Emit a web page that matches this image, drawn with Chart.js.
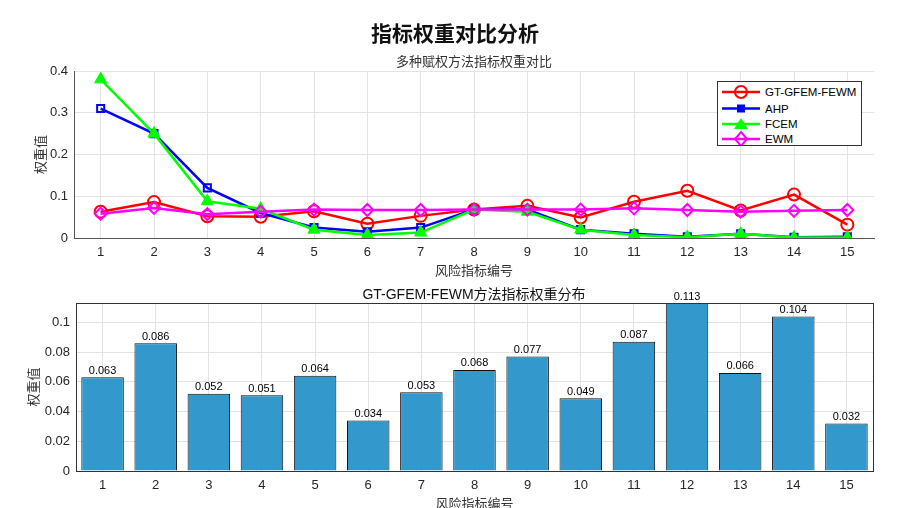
<!DOCTYPE html>
<html>
<head>
<meta charset="utf-8">
<script src="https://cdn.jsdelivr.net/npm/chart.js@4.4.0/dist/chart.umd.min.js"></script>
<style>
body { margin:0; width:906px; height:508px; overflow:hidden; background:#fff; position:relative;
       font-family:"Liberation Sans","Noto Sans CJK SC",sans-serif; }
canvas { position:absolute; left:0; }
#c1 { top:0; }
#c2 { top:280px; }
.ttl { position:absolute; white-space:nowrap; transform:translate(-50%,-50%); color:#111; }
#mainTitle { left:455px; top:32px; font-size:21px; font-weight:bold; font-family:"Noto Sans CJK SC",sans-serif; }
#subTitle { left:474px; top:60px; font-size:13px; color:#333; font-family:"Noto Sans CJK SC",sans-serif; }
#barTitle { left:474px; top:293px; font-size:14px; color:#111; }
#legend { position:absolute; left:717px; top:81px; width:145px; height:65px; box-sizing:border-box;
          border:1px solid #333; background:#fff; font-size:11.5px; color:#000; }
</style>
</head>
<body>
<canvas id="c1" width="906" height="280"></canvas>
<canvas id="c2" width="906" height="240"></canvas>
<div class="ttl" id="mainTitle">指标权重对比分析</div>
<div class="ttl" id="subTitle">多种赋权方法指标权重对比</div>
<div class="ttl" id="barTitle">GT-GFEM-FEWM方法指标权重分布</div>
<div id="legend"></div>
<script>
// data
var indexLabels = ['1','2','3','4','5','6','7','8','9','10','11','12','13','14','15'];
var gtWeights   = [0.063,0.086,0.052,0.051,0.064,0.034,0.053,0.068,0.077,0.049,0.087,0.113,0.066,0.104,0.032];
var ahpWeights  = [0.310,0.250,0.120,0.060,0.025,0.015,0.025,0.068,0.068,0.020,0.010,0.003,0.010,0.002,0.003];
var fcemWeights = [0.380,0.250,0.088,0.070,0.020,0.007,0.013,0.068,0.063,0.020,0.007,0.002,0.010,0.001,0.001];
var ewmWeights  = [0.058,0.072,0.057,0.063,0.068,0.067,0.067,0.068,0.068,0.068,0.071,0.067,0.063,0.065,0.067];

var seriesNames = ['GT-GFEM-FEWM','AHP','FCEM','EWM'];
var seriesColors = ['#ff0000','#0000ff','#00ff00','#ff00ff'];

var tickFont = { family: '"Liberation Sans", Arial, sans-serif', size: 13 };
var titleFont = { family: '"Noto Sans CJK SC", sans-serif', size: 13 };
var gridColor = '#e3e3e3';
var axisColor = '#555';

// LINE CHART

var ctx1 = document.getElementById('c1').getContext('2d');
var chart1 = new Chart(ctx1, {
    type: 'line',
    data: {
        labels: indexLabels,
        datasets: [{
            label: seriesNames[0], data: gtWeights, borderColor: seriesColors[0], borderWidth: 2.5,
            pointStyle: 'circle', pointRadius: 6, pointBorderWidth: 2, pointBackgroundColor: 'rgba(0,0,0,0)',
            pointBorderColor: seriesColors[0], order: 4
        }, {
            label: seriesNames[1], data: ahpWeights, borderColor: seriesColors[1], borderWidth: 2.5,
            pointStyle: 'rect', pointRadius: 5, pointBorderWidth: 2, pointBackgroundColor: 'rgba(0,0,0,0)',
            pointBorderColor: seriesColors[1], order: 3
        }, {
            label: seriesNames[2], data: fcemWeights, borderColor: seriesColors[2], borderWidth: 2.5,
            pointStyle: 'triangle', pointRadius: 7, pointBorderWidth: 1, pointBackgroundColor: seriesColors[2],
            pointBorderColor: seriesColors[2], order: 2
        }, {
            label: seriesNames[3], data: ewmWeights, borderColor: seriesColors[3], borderWidth: 2.5,
            pointStyle: 'rectRot', pointRadius: 6, pointBorderWidth: 2, pointBackgroundColor: 'rgba(0,0,0,0)',
            pointBorderColor: seriesColors[3], order: 1
        }]
    },
    options: {
        responsive: false,
        animation: false,
        layout: { padding: { top: 71, right: 32, left: 0, bottom: 0 } },
        plugins: { legend: { display: false }, tooltip: { enabled: false } },
        scales: {
            x: {
                offset: true,
                grid: { color: gridColor, drawTicks: false, offset: false },
                border: { color: axisColor },
                ticks: { font: tickFont, color: '#262626', padding: 7 },
                title: { display: true, text: '风险指标编号', font: titleFont, color: '#333', padding: { top: 0, bottom: 2 } },
                afterFit: function(s) { s.height = 42; }
            },
            y: {
                min: 0, max: 0.4,
                grid: { color: gridColor, drawTicks: false },
                border: { color: axisColor },
                ticks: { stepSize: 0.1, font: tickFont, color: '#262626', padding: 6,
                         callback: function(v) { return v === 0 ? '0' : v.toFixed(1); } },
                title: { display: true, text: '权重值', font: titleFont, color: '#333', padding: { top: 32, bottom: 0 } },
                afterFit: function(s) { s.width = 74; }
            }
        }
    }
});

// BAR CHART

var barLabels = {
    id: 'barLabels',
    afterDatasetsDraw: function(chart) {
        var c = chart.ctx;
        var meta = chart.getDatasetMeta(0);
        c.save();
        c.font = '11px "Liberation Sans", Arial, sans-serif';
        c.fillStyle = '#000';
        c.textAlign = 'center';
        c.textBaseline = 'bottom';
        meta.data.forEach(function(bar, i) {
            c.fillText(gtWeights[i].toFixed(3), bar.x, bar.y - 1);
        });
        c.restore();
    }
};

var boxLines = {
    id: 'boxLines',
    afterDraw: function(chart) {
        var a = chart.chartArea;
        var c = chart.ctx;
        c.save();
        c.strokeStyle = '#333';
        c.lineWidth = 1;
        c.strokeRect(a.left + 0.5, a.top + 0.5, a.right - a.left, a.bottom - a.top);
        c.restore();
    }
};

var ctx2 = document.getElementById('c2').getContext('2d');
var chart2 = new Chart(ctx2, {
    type: 'bar',
    data: {
        labels: indexLabels,
        datasets: [{
            label: seriesNames[0],
            data: gtWeights,
            backgroundColor: '#3399cc',
            borderColor: '#111',
            borderWidth: 1,
            barPercentage: 0.8,
            categoryPercentage: 1
        }]
    },
    options: {
        responsive: false,
        animation: false,
        layout: { padding: { top: 23, right: 33, left: 0, bottom: 0 } },
        plugins: { legend: { display: false }, tooltip: { enabled: false } },
        scales: {
            x: {
                grid: { color: gridColor, drawTicks: false, offset: false },
                border: { color: axisColor },
                ticks: { font: tickFont, color: '#262626', padding: 7 },
                title: { display: true, text: '风险指标编号', font: titleFont, color: '#333', padding: { top: 0, bottom: 9 } },
                afterFit: function(s) { s.height = 49; }
            },
            y: {
                min: 0, max: 0.113,
                grid: { color: gridColor, drawTicks: false },
                border: { color: axisColor },
                ticks: { stepSize: 0.02, includeBounds: false, font: tickFont, color: '#262626', padding: 6,
                         callback: function(v) { return String(Number(v.toFixed(2))); } },
                title: { display: true, text: '权重值', font: titleFont, color: '#333', padding: { top: 25, bottom: 0 } },
                afterFit: function(s) { s.width = 76; }
            }
        }
    },
    plugins: [barLabels, boxLines]
});

// LEGEND

function markerSvg(i) {
    var col = seriesColors[i];
    if (i === 0) return '<circle cx="23" cy="0" r="6" fill="none" stroke="' + col + '" stroke-width="2"/>';
    if (i === 1) return '<rect x="19" y="-4" width="8" height="8" fill="' + col + '"/>';
    if (i === 2) return '<polygon points="23,-6 30,5 16,5" fill="' + col + '"/>';
    return '<polygon points="23,-7 29,0 23,7 17,0" fill="none" stroke="' + col + '" stroke-width="2"/>';
}

var legendHtml = '<svg width="143" height="63" style="position:absolute;left:0;top:0">';
var rowY = [10, 26.5, 42, 57];
for (var i = 0; i < seriesNames.length; i++) {
    legendHtml += '<g transform="translate(0,' + rowY[i] + ')">' +
        '<line x1="4" y1="0" x2="42" y2="0" stroke="' + seriesColors[i] + '" stroke-width="2.5"/>' +
        markerSvg(i) +
        '<text x="47" y="4" font-size="11.5" font-family="Liberation Sans, Arial, sans-serif" fill="#000">' + seriesNames[i] + '</text>' +
        '</g>';
}
legendHtml += '</svg>';
document.getElementById('legend').innerHTML = legendHtml;
</script>
</body>
</html>
